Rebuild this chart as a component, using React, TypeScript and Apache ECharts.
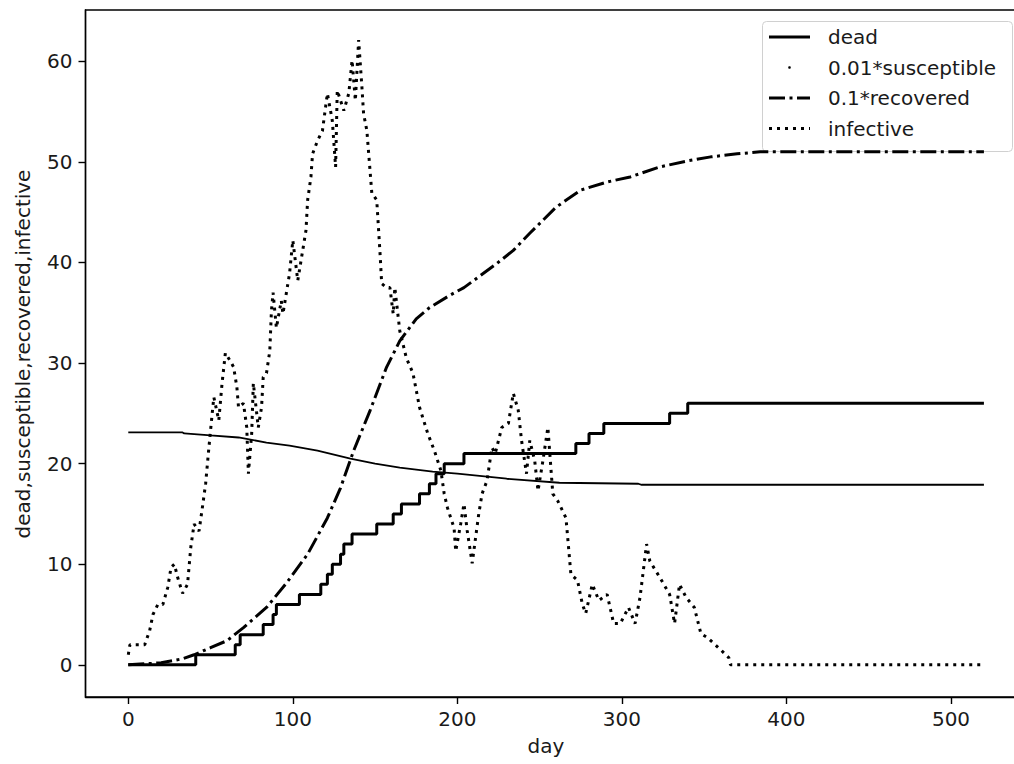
import React, { useEffect, useRef } from "react";
import * as echarts from "echarts";

// ---- data ----
const xTicks = [0, 100, 200, 300, 400, 500];
const yTicks = [0, 10, 20, 30, 40, 50, 60];

const seriesNames = ["dead", "0.01*susceptible", "0.1*recovered", "infective"];

// dead: [day, value] at each step change
const dead: number[][] = [
  [0, 0], [41, 1], [65, 2], [68, 3], [82, 4], [88, 5], [90, 6], [104, 7], [117, 8],
  [121, 9], [124, 10], [129, 11], [131, 12], [136, 13], [151, 14], [161, 15], [166, 16],
  [177, 17], [183, 18], [187, 19], [192, 20], [204, 21], [272, 22], [280, 23], [289, 24],
  [329, 25], [340, 26], [520, 26],
];

const susceptible: number[][] = [
  [0, 23.1], [33, 23.1], [34, 23.0], [50, 22.8], [67, 22.6], [84, 22.1], [98, 21.8],
  [115, 21.3], [135, 20.5], [150, 20.0], [165, 19.6], [185, 19.2], [200, 19.0],
  [230, 18.5], [262, 18.1], [310, 18.0], [312, 17.9], [520, 17.9],
];

const recovered: number[][] = [
  [0, 0], [20, 0.2], [33, 0.6], [40, 1.0], [50, 1.7], [60, 2.4], [70, 3.7], [84, 5.7],
  [96, 8.1], [109, 11.0], [121, 14.6], [129, 17.6], [137, 21.3], [147, 25.3], [157, 29.6],
  [165, 32.2], [175, 34.4], [183, 35.5], [195, 36.7], [204, 37.5], [214, 38.7], [224, 39.9],
  [234, 41.2], [244, 42.9], [252, 44.2], [260, 45.5], [275, 47.2], [291, 48.0], [305, 48.5],
  [323, 49.5], [340, 50.1], [354, 50.5], [370, 50.8], [384, 51.0], [400, 51.0], [520, 51.0],
];

const infective: number[][] = [
  [0, 1], [1, 2], [5, 2], [10, 2], [13, 3.4], [15, 5], [18, 6], [21, 6], [24, 7.7],
  [26, 9.7], [28, 10], [30, 8.7], [33, 7.1], [36, 8], [38, 11.7], [40, 14], [43, 13.3],
  [45, 15.6], [47, 18], [49, 21.6], [51, 25], [52, 26.6], [55, 24.3], [57, 28], [59, 31],
  [62, 30.2], [64, 29.6], [66, 27.6], [67, 25.6], [70, 26], [72, 23.6], [73, 19], [75, 23],
  [76, 28], [79, 23.6], [81, 25.6], [82, 28.6], [84, 29], [86, 31.2], [87, 35.2], [88, 37],
  [90, 33.5], [93, 36.2], [94, 34.9], [96, 36.9], [98, 38.9], [100, 42.2], [103, 38.2],
  [106, 41.2], [108, 43.2], [109, 46.2], [111, 48.5], [112, 50.8], [115, 52.1], [118, 53.1],
  [121, 56.8], [124, 54.1], [126, 49.5], [127, 57.1], [131, 55.1], [134, 56.8], [136, 60.1],
  [138, 56.1], [140, 62.1], [142, 57.4], [143, 54.8], [145, 53.1], [148, 46.9], [151, 46.2],
  [153, 40.9], [154, 37.9], [157, 37.5], [159, 37.5], [161, 34.9], [162, 37.5], [165, 33.2],
  [169, 30.5], [173, 29], [177, 25.6], [182, 23], [186, 21.3], [188, 20.3], [190, 19.3],
  [192, 17], [194, 15.6], [198, 13.6], [199, 11.3], [202, 14], [204, 16], [206, 13.3],
  [209, 10.1], [213, 15], [215, 17], [218, 18.3], [221, 21.6], [223, 21], [227, 23.6],
  [231, 24], [234, 27], [237, 25.3], [239, 22.3], [242, 19], [244, 22.3], [247, 20.3],
  [249, 17.3], [252, 20.3], [255, 23.6], [258, 17], [261, 16.3], [266, 14.6], [269, 9],
  [273, 8.4], [276, 6], [278, 5.1], [282, 8], [286, 6.4], [291, 7], [295, 4.1], [299, 4.1],
  [304, 5.7], [308, 4.1], [311, 6.7], [315, 12], [317, 10.3], [323, 8.7], [329, 7],
  [332, 4.1], [335, 8], [339, 6.7], [344, 5.7], [348, 3.1], [352, 2.7], [356, 2.1],
  [360, 1.5], [365, 0.7], [366, 0], [520, 0],
];

const FONT = "DejaVu Sans";
const TXT = "#1a1a1a";
const FS = 20;
const DASHDOT = [16, 4.5, 3, 4.5];
const DOTTED = [3, 5];

export default function App() {
  const ref = useRef<HTMLDivElement>(null);

  useEffect(() => {
    if (!ref.current) return;
    const chart = echarts.init(ref.current, undefined, { renderer: "svg" });

    const legendRows = [37, 67.5, 98, 128.5];
    const lx0 = 769;
    const lx1 = 810;
    const textX = 828;

    const option: any = {
      animation: false,
      backgroundColor: "#ffffff",
      grid: {
        left: 85.5,
        right: 3.3,
        top: 10,
        bottom: 67,
        show: true,
        borderColor: "#000",
        borderWidth: 1.4,
        backgroundColor: "transparent",
      },
      xAxis: {
        type: "value",
        min: -26,
        max: 546,
        splitLine: { show: false },
        axisLine: { show: true, onZero: false, lineStyle: { color: "#000", width: 1.4 } },
        axisTick: { show: true, length: 7, lineStyle: { color: "#000", width: 1.4 }, customValues: xTicks },
        axisLabel: { color: TXT, fontSize: FS, fontFamily: FONT, margin: 12, customValues: xTicks },
      },
      yAxis: {
        type: "value",
        min: -3.2,
        max: 65.1,
        splitLine: { show: false },
        axisLine: { show: true, onZero: false, lineStyle: { color: "#000", width: 1.4 } },
        axisTick: { show: true, length: 7, lineStyle: { color: "#000", width: 1.4 }, customValues: yTicks },
        axisLabel: { color: TXT, fontSize: FS, fontFamily: FONT, margin: 13, customValues: yTicks },
      },
      series: [
        {
          name: seriesNames[0],
          type: "line",
          step: "end",
          data: dead,
          symbol: "none",
          lineStyle: { color: "#000", width: 3 },
        },
        {
          name: seriesNames[1],
          type: "line",
          data: susceptible,
          symbol: "none",
          lineStyle: { color: "#000", width: 1.8 },
        },
        {
          name: seriesNames[2],
          type: "line",
          data: recovered,
          symbol: "none",
          lineStyle: { color: "#000", width: 3, type: DASHDOT },
        },
        {
          name: seriesNames[3],
          type: "line",
          data: infective,
          symbol: "none",
          lineStyle: { color: "#000", width: 3, type: DOTTED },
        },
      ],
      graphic: [
        {
          type: "text",
          x: 546,
          y: 746,
          style: {
            text: "day",
            fill: TXT,
            font: `${FS}px '${FONT}'`,
            textAlign: "center",
            textVerticalAlign: "middle",
          },
        },
        {
          type: "text",
          x: 23,
          y: 354,
          rotation: Math.PI / 2,
          style: {
            text: "dead,susceptible,recovered,infective",
            fill: TXT,
            font: `${FS}px '${FONT}'`,
            textAlign: "center",
            textVerticalAlign: "middle",
          },
        },
        {
          type: "group",
          z: 100,
          children: [
            {
              type: "rect",
              shape: { x: 762.5, y: 21.5, width: 250, height: 130, r: 4 },
              style: { fill: "rgba(255,255,255,0.8)", stroke: "#d0d0d0", lineWidth: 1 },
            },
            {
              type: "line",
              shape: { x1: lx0, y1: legendRows[0], x2: lx1, y2: legendRows[0] },
              style: { stroke: "#000", lineWidth: 3 },
            },
            {
              type: "circle",
              shape: { cx: (lx0 + lx1) / 2, cy: legendRows[1], r: 1.3 },
              style: { fill: "#000" },
            },
            {
              type: "line",
              shape: { x1: lx0, y1: legendRows[2], x2: lx1, y2: legendRows[2] },
              style: { stroke: "#000", lineWidth: 3, lineDash: DASHDOT },
            },
            {
              type: "line",
              shape: { x1: lx0, y1: legendRows[3], x2: lx1, y2: legendRows[3] },
              style: { stroke: "#000", lineWidth: 3, lineDash: DOTTED },
            },
            ...seriesNames.map((n, i) => ({
              type: "text",
              x: textX,
              y: legendRows[i],
              style: {
                text: n,
                fill: TXT,
                font: `${FS}px '${FONT}'`,
                textAlign: "left",
                textVerticalAlign: "middle",
              },
            })),
          ],
        },
      ],
    };

    chart.setOption(option);
    return () => chart.dispose();
  }, []);

  return (
    <div
      style={{
        position: "absolute",
        left: 0,
        top: 0,
        width: 1014,
        height: 764,
        overflow: "hidden",
        background: "#fff",
      }}
    >
      <div ref={ref} style={{ width: 1030, height: 764 }} />
    </div>
  );
}
